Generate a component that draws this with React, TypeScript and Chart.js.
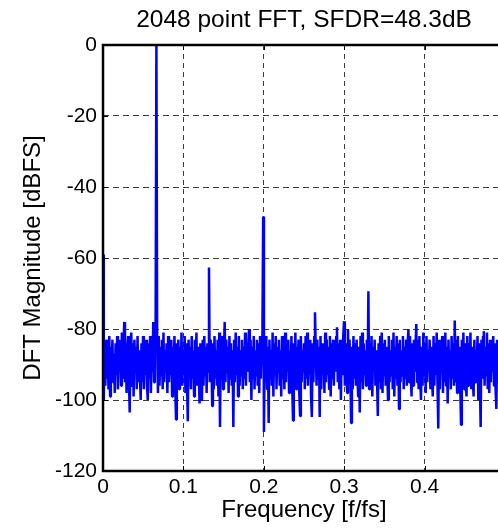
import { useEffect, useRef } from "react";
import { Chart, registerables } from "chart.js";

Chart.register(...registerables);

const TITLE = "2048 point FFT, SFDR=48.3dB";
const X_LABEL = "Frequency [f/fs]";
const Y_LABEL = "DFT Magnitude [dBFS]";

// Spacing of the plotted bins, in units of f/fs
const BIN_STEP = 1 / 1024;

const X_TICKS = [0, 0.1, 0.2, 0.3, 0.4, 0.5];
const Y_TICKS = [0, -20, -40, -60, -80, -100, -120];

// Magnitude spectrum in dBFS, one value per bin from DC up to fs/2
const MAGNITUDE_DB = [
  -59, -100, -84, -96, -83, -94, -86, -97, -82, -99, -85, -92, -83, -95, -87, -98,
  -84, -93, -82, -97, -86, -91, -83, -96, -81, -94, -87, -78, -95, -84, -98, -85,
  -82, -94, -103.5, -85, -81, -96, -84, -99, -83, -92, -85, -97, -82, -95, -86, -93,
  -100, -84, -95, -82, -97, -85, -93, -83, -96, -100, -84, -94, -82, -98, -86, -92,
  -78, -95, -83, -80, 0, -84, -98, -82, -96, -85, -93, -83, -97, -81, -95, -86,
  -92, -84, -98, -82, -95, -86, -93, -83, -99, -85, -94, -82, -96, -105.5, -84, -91,
  -83, -97, -85, -94, -81, -96, -86, -93, -82, -98, -84, -95, -106, -83, -92, -85,
  -97, -82, -94, -86, -99, -83, -93, -81, -96, -85, -92, -101, -84, -95, -100.3, -83,
  -96, -82, -93, -85, -98, -84, -92, -62.7, -95, -83, -86, -101.7, -84, -97, -82, -94,
  -86, -96, -83, -99, -81, -107.6, -85, -93, -82, -97, -86, -78, -95, -83, -92, -85,
  -98, -82, -94, -84, -96, -86, -107.6, -83, -95, -81, -93, -85, -99, -82, -96, -86,
  -93, -83, -97, -85, -94, -81, -96, -84, -92, -86, -80, -95, -83, -100, -85, -94,
  -82, -97, -86, -93, -83, -96, -84, -98, -82, -94, -85, -83, -48.3, -109, -84, -95,
  -82, -97, -85, -106.5, -83, -94, -86, -96, -81, -99, -84, -93, -82, -97, -85, -92,
  -83, -96, -86, -99, -82, -94, -85, -97, -81, -95, -84, -92, -83, -98, -86, -93,
  -82, -96, -105.8, -84, -93, -81, -97, -85, -94, -83, -98, -104.5, -82, -95, -86, -92,
  -84, -97, -82, -94, -81, -96, -85, -93, -83, -99, -104.8, -84, -95, -82, -75.3, -86,
  -96, -83, -94, -85, -104.8, -82, -97, -84, -92, -86, -98, -81, -95, -83, -93, -85,
  -97, -82, -99, -84, -94, -83, -96, -85, -92, -82, -79.5, -95, -84, -97, -83, -100,
  -85, -93, -82, -77.8, -96, -84, -94, -98, -80, -95, -83, -92, -106.5, -85, -97, -82,
  -94, -84, -96, -83, -93, -99, -85, -103.5, -82, -95, -81, -97, -84, -93, -86, -96,
  -83, -94, -69.4, -97, -84, -95, -82, -99, -85, -92, -83, -96, -86, -94, -104.5, -84,
  -95, -82, -97, -81, -98, -84, -93, -83, -96, -85, -92, -100, -82, -95, -86, -93,
  -83, -97, -81, -99, -85, -94, -82, -96, -84, -102.5, -83, -95, -86, -93, -82, -97,
  -85, -94, -83, -96, -84, -80, -95, -82, -93, -99, -84, -96, -83, -92, -85, -78.6,
  -95, -83, -97, -82, -94, -100, -85, -96, -81, -93, -84, -98, -82, -95, -86, -92,
  -83, -97, -85, -94, -99, -82, -96, -84, -93, -81, -95, -108, -83, -97, -85, -92,
  -82, -98, -84, -95, -81, -96, -85, -101, -83, -93, -86, -97, -82, -94, -84, -96,
  -77.6, -95, -83, -98, -82, -94, -85, -96, -107, -83, -93, -81, -97, -84, -95, -99,
  -82, -96, -84, -93, -81, -97, -85, -94, -99, -83, -95, -86, -92, -82, -100, -84,
  -95, -107.6, -83, -94, -82, -80.6, -96, -85, -93, -81, -97, -84, -98, -83, -95, -86,
  -92, -82, -96, -84, -97, -102.5, -83, -95, -86, -93, -82, -96, -85, -94, -98, -83,
  -90,
];

const FONT_FAMILY = "'Liberation Sans', Arial, Helvetica, sans-serif";

// Axes box, inward tick marks and the title, drawn the way MATLAB does
const axesBoxPlugin = {
  id: "axesBox",
  afterDatasetsDraw(chart: Chart) {
    const { ctx, chartArea } = chart;
    const { left, right, top, bottom } = chartArea;
    const xs = chart.scales.x;
    const ys = chart.scales.y;
    ctx.save();
    ctx.strokeStyle = "#000";
    ctx.lineWidth = 1;
    ctx.beginPath();
    for (const t of X_TICKS) {
      const px = Math.round(xs.getPixelForValue(t)) + 0.5;
      ctx.moveTo(px, top);
      ctx.lineTo(px, top + 5);
      ctx.moveTo(px, bottom);
      ctx.lineTo(px, bottom - 5);
    }
    for (const t of Y_TICKS) {
      const py = Math.round(ys.getPixelForValue(t)) + 0.5;
      ctx.moveTo(left, py);
      ctx.lineTo(left + 5, py);
      ctx.moveTo(right, py);
      ctx.lineTo(right - 5, py);
    }
    ctx.stroke();

    ctx.lineWidth = 2.5;
    ctx.beginPath();
    ctx.rect(left, top, right - left, bottom - top);
    ctx.stroke();

    ctx.fillStyle = "#000";
    ctx.font = `24.5px ${FONT_FAMILY}`;
    ctx.textAlign = "center";
    ctx.textBaseline = "alphabetic";
    ctx.fillText(TITLE, (left + right) / 2, 27);
    ctx.restore();
  },
};

export default function App() {
  const canvasRef = useRef<HTMLCanvasElement | null>(null);

  useEffect(() => {
    const canvas = canvasRef.current;
    if (!canvas) return;

    const points = MAGNITUDE_DB.map((y, k) => ({ x: k * BIN_STEP, y }));

    const chart = new Chart(canvas, {
      type: "line",
      data: {
        datasets: [
          {
            data: points,
            borderColor: "#0000ff",
            borderWidth: 2.5,
            pointRadius: 0,
            tension: 0,
            borderJoinStyle: "bevel",
          },
        ],
      },
      plugins: [axesBoxPlugin],
      options: {
        animation: false,
        responsive: false,
        maintainAspectRatio: false,
        parsing: false,
        layout: { padding: { top: 45, right: 6, left: 0, bottom: 0 } },
        plugins: {
          legend: { display: false },
          title: { display: false },
          tooltip: { enabled: false },
        },
        scales: {
          x: {
            type: "linear",
            min: X_TICKS[0],
            max: X_TICKS[X_TICKS.length - 1],
            afterBuildTicks: (scale: any) => {
              scale.ticks = X_TICKS.map((value) => ({ value }));
            },
            afterFit: (scale: any) => {
              scale.height = 60;
            },
            ticks: {
              color: "#000",
              font: { family: FONT_FAMILY, size: 21 },
              padding: 4,
              maxRotation: 0,
              autoSkip: false,
              callback: (v: any) =>
                Number(v) >= X_TICKS[X_TICKS.length - 1] ? "" : String(Number(Number(v).toFixed(1))),
            },
            grid: { color: "#3a3a3a", lineWidth: 1, drawTicks: false },
            border: { display: false, dash: [5, 4] },
            title: {
              display: true,
              text: X_LABEL,
              color: "#000",
              font: { family: FONT_FAMILY, size: 24 },
              padding: { top: 0, bottom: 6 },
            },
          },
          y: {
            type: "linear",
            min: Y_TICKS[Y_TICKS.length - 1],
            max: Y_TICKS[0],
            afterBuildTicks: (scale: any) => {
              scale.ticks = [...Y_TICKS].reverse().map((value) => ({ value }));
            },
            afterFit: (scale: any) => {
              scale.width = 103;
            },
            ticks: {
              color: "#000",
              font: { family: FONT_FAMILY, size: 21 },
              padding: 6,
              autoSkip: false,
              callback: (v: any) => String(v),
            },
            grid: { color: "#3a3a3a", lineWidth: 1, drawTicks: false },
            border: { display: false, dash: [6, 4] },
            title: {
              display: true,
              text: Y_LABEL,
              color: "#000",
              font: { family: FONT_FAMILY, size: 24 },
              padding: { top: 19, bottom: 0 },
            },
          },
        },
      },
    });

    return () => chart.destroy();
  }, []);

  return (
    <div
      style={{
        position: "fixed",
        left: 0,
        top: 0,
        width: 498,
        height: 531,
        overflow: "hidden",
        background: "#fff",
      }}
    >
      <canvas ref={canvasRef} width={511} height={531} style={{ display: "block", width: 511, height: 531 }} />
    </div>
  );
}
